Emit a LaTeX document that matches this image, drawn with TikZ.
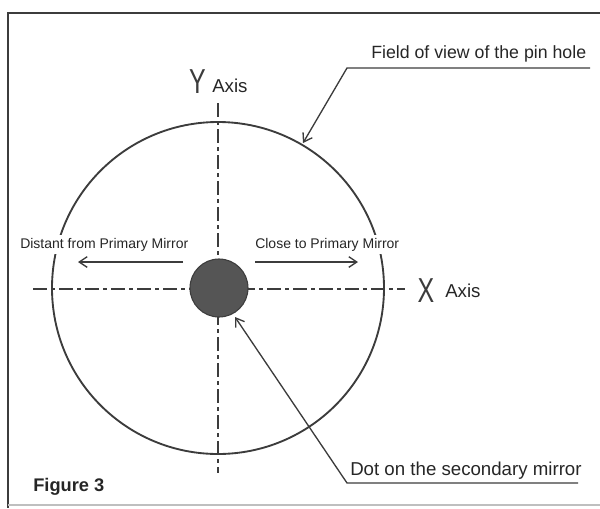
\documentclass[tikz,border=0pt]{standalone}
\usepackage{fontspec}
\setmainfont{Liberation Sans}
\usetikzlibrary{arrows.meta}
\definecolor{ink}{RGB}{60,60,60}
\definecolor{dotfill}{RGB}{85,85,85}
\tikzset{
  lbl/.style={inner sep=0pt, anchor=base west, text=black!85},
  opaque/.style={fill=white, inner xsep=0pt, inner ysep=2pt},
  big/.style={inner sep=0pt, anchor=base, text=ink, xscale=0.72, font=\fontsize{26}{26}\selectfont},
  axisline/.style={ink, line width=1.4pt, dash pattern=on 10.5pt off 3pt on 3pt off 3pt},
  leader/.style={ink, line width=1.0pt},
  barb/.style={-{Straight Barb[length=6pt,width=8pt,line width=1pt]}},
}
\begin{document}
\begin{tikzpicture}[x=0.75pt,y=-0.75pt]
\useasboundingbox (0,0) rectangle (600,508);
% frame
\draw[ink, line width=2pt] (600,13) -- (8,13) -- (8,508);
\draw[black!25, line width=0.8pt] (8,505) -- (600,505);
% axes
\coordinate (ytop) at (218,103);
\coordinate (ybot) at (218,473);
\coordinate (xl) at (33,289);
\coordinate (xr) at (405,289);
\draw[axisline] (ytop) -- (ybot);
\draw[axisline] (xl) -- (xr);
% field circle
\draw[ink, line width=1.4pt] (218,288) circle[radius=166];
% dot
\fill[dotfill, draw=ink, line width=0.8pt] (219,288) circle[radius=29];
% axis labels
\node[big] (Y) at (197.5,93) {Y};
\node[lbl, font=\fontsize{14}{14}\selectfont] (yax) at (212,92) {Axis};
\node[big] (X) at (426,302) {X};
\node[lbl, font=\fontsize{14}{14}\selectfont] (xax) at (445,297) {Axis};
% direction labels and arrows
\node[lbl, opaque, font=\fontsize{10.5}{10.5}\selectfont] (dist) at (20,248) {Distant from Primary Mirror};
\node[lbl, opaque, font=\fontsize{10.5}{10.5}\selectfont] (close) at (255,248) {Close to Primary Mirror};
\coordinate (la) at (183,262);
\coordinate (lb) at (78,262);
\coordinate (ra) at (255,262);
\coordinate (rb) at (358,262);
\draw[ink, line width=1.2pt, barb] (la) -- (lb);
\draw[ink, line width=1.2pt, barb] (ra) -- (rb);
% field of view leader
\node[lbl, font=\fontsize{13.3}{13.3}\selectfont] (fov) at (371,58) {Field of view of the pin hole};
\coordinate (f1) at (590,68);
\coordinate (f2) at (347,68);
\coordinate (f3) at (303,143);
\draw[leader, barb] (f1) -- (f2) -- (f3);
% dot leader
\node[lbl, font=\fontsize{14}{14}\selectfont] (dotl) at (350,475) {Dot on the secondary mirror};
\coordinate (d1) at (578,483);
\coordinate (d2) at (347,483);
\coordinate (d3) at (235,317);
\draw[leader, barb] (d1) -- (d2) -- (d3);
% figure caption
\node[lbl, font=\bfseries\fontsize{13.7}{13.7}\selectfont] (fig) at (33,491) {Figure 3};
\end{tikzpicture}
\end{document}
